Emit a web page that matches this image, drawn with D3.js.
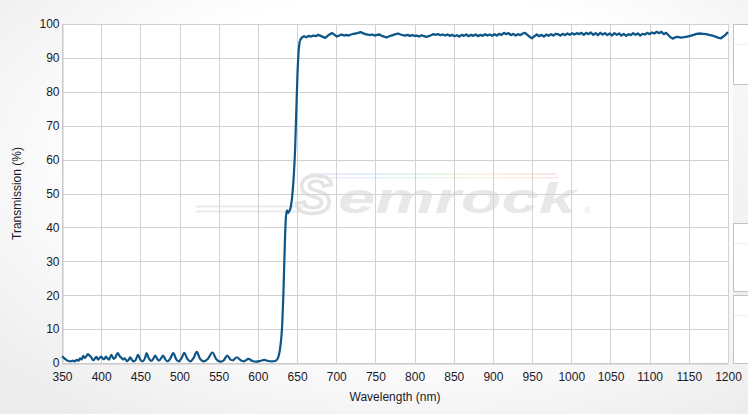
<!DOCTYPE html>
<html><head><meta charset="utf-8">
<script src="https://cdn.jsdelivr.net/npm/d3@7"></script>
<style>body{margin:0;background:#fff}svg{display:block}</style>
</head><body><svg id="c" width="748" height="414"></svg>
<script>
// Wavelength (nm), Transmission (%)
const lowBand = [[350,1.9],[352,1.6],[355,1.0],[358,0.6],[361,0.5],[364,0.7],[366,0.5],[369,0.9],[371,0.7],[373,1.4],[375,1.0],[377,2.1],[379,1.5],[381,2.0],[383,2.6],[385,2.2],[387,1.8],[390,0.8],[392,1.3],[394,1.8],[396,1.0],[398,1.5],[400,1.9],[402,1.3],[404,1.1],[406,1.9],[408,1.4],[410,1.0],[413,2.4],[416,1.2],[418,1.6],[421,2.9],[424,1.9],[426,1.5],[428,1.0],[430,1.4],[433,0.5],[435,0.9],[437,1.7],[439,1.0],[441,0.5],[444,0.9],[447,2.4],[450,1.0],[453,0.5],[456,1.5],[458,2.9],[461,1.3],[464,0.6],[467,1.4],[469,2.2],[472,1.0],[474,0.7],[477,1.6],[479,2.2],[482,1.0],[485,0.5],[488,1.2],[492,2.9],[496,1.0],[499,0.5],[503,1.6],[506,3.0],[510,1.2],[514,0.5],[518,1.5],[522,3.3],[526,1.3],[531,0.5],[536,1.2],[542,3.1],[547,1.1],[552,0.4],[556,0.7],[561,2.2],[565,1.0],[568,0.8],[573,1.7],[578,0.8],[582,0.5],[588,1.2],[593,0.6],[598,0.4],[603,0.6],[608,0.9],[613,0.6],[618,0.5],[622,0.6]];
const edge = [[625,1.2],[627,2.5],[629,5.5],[631,11],[632.5,20],[634,32],[635.5,42],[637,45],[638.5,44.2],[640,44.8],[641.5,45.5],[643,47.5],[644.5,51],[646,56],[647.5,63],[649,74],[650.5,85],[652,92],[653.5,95]];
const plateau = [[656,96.0],[659,96.4],[662,96.1],[665,96.5],[668,96.3],[671,96.6],[674,96.4],[677,96.8],[680,96.5],[683,96.2],[686,95.9],[689,96.5],[692,97.0],[695,97.3],[698,96.8],[701,96.3],[704,96.6],[707,96.9],[710,96.6],[713,96.8],[716,96.6],[719,96.9],[722,97.1],[725,97.2],[728,97.4],[731,97.6],[734,97.3],[737,97.0],[740,96.9],[743,96.7],[746,96.9],[749,96.6],[752,96.8],[755,96.9],[758,96.5],[761,96.3],[764,96.0],[767,96.3],[770,96.6],[773,96.8],[776,97.0],[779,97.2],[782,96.9],[785,96.7],[788,96.6],[791,96.8],[794,96.5],[797,96.7],[800,96.5],[803,96.6],[806,96.3],[809,96.7],[812,96.4],[815,96.2],[818,96.4],[821,96.7],[824,97.0],[827,96.8],[830,97.0],[833,96.7],[836,96.9],[839,96.6],[842,96.9],[845,96.5],[848,96.8],[851,96.4],[854,96.7],[857,96.3],[860,96.8],[863,96.5],[866,96.9],[869,96.4],[872,96.8],[875,96.5],[878,96.9],[881,96.4],[884,96.8],[887,96.5],[890,97.0],[893,96.6],[896,96.9],[899,96.5],[902,97.0],[905,96.6],[908,97.1],[911,96.8],[914,97.4],[917,97.0],[920,97.3],[923,96.7],[926,97.1],[929,96.6],[932,97.0],[935,96.7],[938,97.2],[941,97.4],[944,96.8],[947,96.2],[950,95.8],[953,96.4],[956,96.9],[959,96.4],[962,96.8],[965,96.3],[968,96.9],[971,96.5],[974,97.0],[977,96.6],[980,97.1],[983,97.0],[986,96.6],[989,97.1],[992,96.7],[995,97.2],[998,96.8],[1001,97.3],[1004,96.9],[1007,97.3],[1010,97.0],[1013,97.4],[1016,96.8],[1019,97.4],[1022,97.0],[1025,97.5],[1028,96.8],[1031,97.3],[1034,96.7],[1037,97.4],[1040,96.9],[1043,97.3],[1046,96.7],[1049,97.2],[1052,96.6],[1055,97.3],[1058,96.8],[1061,97.2],[1064,96.6],[1067,97.1],[1070,96.5],[1073,97.0],[1076,96.7],[1079,97.3],[1082,96.8],[1085,97.2],[1088,96.6],[1091,97.1],[1094,96.9],[1097,97.4],[1100,97.0],[1103,97.5],[1106,97.2],[1109,97.7],[1112,97.3],[1115,97.7],[1118,97.0],[1121,97.4],[1124,96.7],[1127,96.0],[1130,95.7],[1133,96.1],[1136,96.2],[1140,96.0],[1144,96.1],[1148,96.3],[1152,96.5],[1156,96.8],[1160,97.1],[1164,97.2],[1168,97.1],[1172,97.0],[1176,96.8],[1180,96.6],[1184,96.3],[1188,95.9],[1191,95.8],[1194,96.3],[1197,96.9],[1200,97.6]];
const xTickValues = [350,400,450,500,550,600,650,700,750,800,850,900,950,1000,1050,1100,1150,1200];
const yTickValues = [0,10,20,30,40,50,60,70,80,90,100];
const xTitle = "Wavelength (nm)";
const yTitle = "Transmission (%)";

const svg = d3.select("#c");
const L = 62, R = 728, T = 24, B = 363;
const x = d3.scaleLinear([350,1200],[L,R]);
const y = d3.scaleLinear([0,100],[B,T]);
const font = "'Liberation Sans', Arial, sans-serif";

const defs = svg.append("defs");
const bg = defs.append("radialGradient").attr("id","bg").attr("cx","0.55").attr("cy","0.4").attr("r","0.75");
bg.append("stop").attr("offset","0.55").attr("stop-color","#ffffff");
bg.append("stop").attr("offset","1").attr("stop-color","#ececec");
const side = defs.append("linearGradient").attr("id","side").attr("x1",0).attr("y1",0).attr("x2",0).attr("y2",1);
side.append("stop").attr("offset","0").attr("stop-color","#f7f7f7");
side.append("stop").attr("offset","1").attr("stop-color","#ededed");
const rb = defs.append("linearGradient").attr("id","rainbow");
[["0","#ececf8"],["0.25","#e4f0fb"],["0.5","#e8f6e8"],["0.7","#fbf6df"],["1","#fbe4e4"]].forEach(s=>rb.append("stop").attr("offset",s[0]).attr("stop-color",s[1]));

svg.append("rect").attr("width",748).attr("height",414).attr("fill","url(#bg)");
// right side panel
svg.append("rect").attr("x",733).attr("y",84).attr("width",15).attr("height",280).attr("fill","url(#side)");
[[24,84],[223,291],[295,363]].forEach(b=>{
  svg.append("rect").attr("x",733.5).attr("y",b[0]+0.5).attr("width",20).attr("height",b[1]-b[0]).attr("fill","#fff").attr("stroke","#c2c2c2");
  svg.append("line").attr("x1",734).attr("x2",748).attr("y1",b[0]+20.5).attr("y2",b[0]+20.5).attr("stroke","#f0f0f0");
});

// plot background
svg.append("rect").attr("x",L).attr("y",T).attr("width",R-L).attr("height",B-T).attr("fill","#fff");

// watermark
const wm = svg.append("g");
wm.append("rect").attr("x",310).attr("y",173).attr("width",246).attr("height",2).attr("fill","url(#rainbow)");
wm.append("rect").attr("x",318).attr("y",177).attr("width",240).attr("height",1.5).attr("fill","url(#rainbow)");
wm.append("rect").attr("x",196).attr("y",205.5).attr("width",112).attr("height",2).attr("fill","#ebebeb");
wm.append("rect").attr("x",196).attr("y",210.5).attr("width",110).attr("height",2).attr("fill","#ebebeb");
wm.append("text").attr("x",296).attr("y",213).attr("font-family",font).attr("font-weight","bold").attr("font-style","italic")
  .attr("font-size",54).attr("fill","none").attr("stroke","#e4e4e4").attr("stroke-width",3.5).text("S");
wm.append("text").attr("x",338).attr("y",213).attr("font-family",font).attr("font-weight","bold").attr("font-style","italic")
  .attr("font-size",42).attr("fill","#e8e8e8").attr("textLength",238).attr("lengthAdjust","spacingAndGlyphs").text("emrock");
wm.append("text").attr("x",584).attr("y",214).attr("font-family",font).attr("font-size",9).attr("fill","#e4e4e4").text("®");

// gridlines
svg.append("g").selectAll("line").data(xTickValues).join("line")
  .attr("x1",d=>Math.round(x(d))+0.5).attr("x2",d=>Math.round(x(d))+0.5).attr("y1",T).attr("y2",B)
  .attr("stroke","#d2d2d2").attr("stroke-width",1);
svg.append("g").selectAll("line").data(yTickValues).join("line")
  .attr("y1",d=>Math.round(y(d))+0.5).attr("y2",d=>Math.round(y(d))+0.5).attr("x1",L).attr("x2",R)
  .attr("stroke","#d2d2d2").attr("stroke-width",1);

// axes
const xAxis = svg.append("g").attr("transform",`translate(0,${B+0.5})`)
  .call(d3.axisBottom(x).tickValues(xTickValues).tickSize(0).tickPadding(9).tickFormat(d3.format("d")));
const yAxis = svg.append("g").attr("transform",`translate(${L+0.5},0)`)
  .call(d3.axisLeft(y).tickValues(yTickValues).tickSize(0).tickPadding(3).tickFormat(d3.format("d")));
[xAxis,yAxis].forEach(a=>{
  a.select(".domain").attr("stroke","#c4c4c4");
  a.selectAll("text").attr("font-family",font).attr("font-size",12).attr("fill","#1a1a2a");
});

// titles
svg.append("text").attr("x",(L+R)/2).attr("y",401).attr("text-anchor","middle")
  .attr("font-family",font).attr("font-size",12).attr("fill","#1a1a2a").text(xTitle);
svg.append("text").attr("transform",`translate(21,${(T+B)/2}) rotate(-90)`).attr("text-anchor","middle")
  .attr("font-family",font).attr("font-size",12).attr("fill","#1a1a2a").text(yTitle);

// curve: smooth low band and edge, jagged (linear) noisy plateau
const lineColor = "#0e5588";
svg.append("path").datum(lowBand.concat(edge))
  .attr("fill","none").attr("stroke",lineColor).attr("stroke-width",2.2).attr("stroke-linejoin","round")
  .attr("d", d3.line().x(d=>x(d[0])).y(d=>y(d[1])).curve(d3.curveMonotoneX));
svg.append("path").datum([edge[edge.length-1]].concat(plateau))
  .attr("fill","none").attr("stroke",lineColor).attr("stroke-width",2.3).attr("stroke-linejoin","round")
  .attr("d", d3.line().x(d=>x(d[0])).y(d=>y(d[1])));
</script></body></html>
